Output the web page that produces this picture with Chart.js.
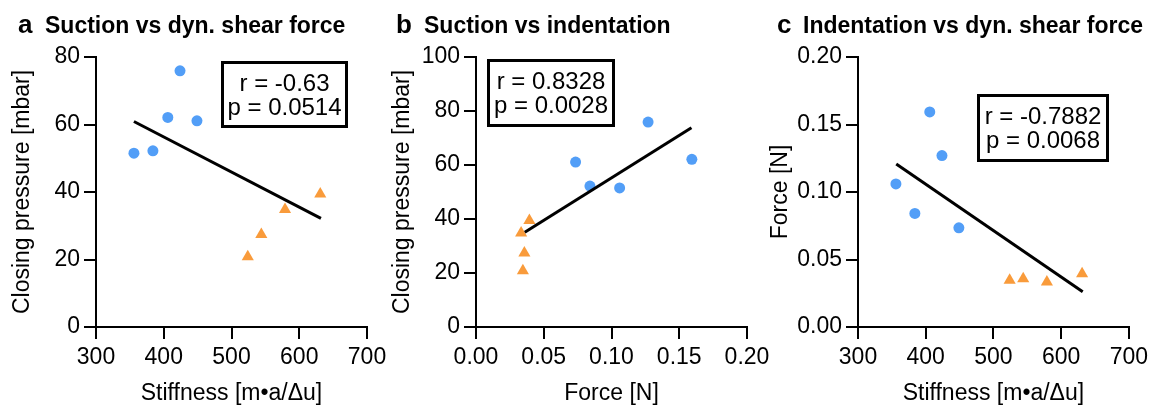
<!DOCTYPE html>
<html>
<head>
<meta charset="utf-8">
<script src="https://cdn.jsdelivr.net/npm/chart.js@4.4.1/dist/chart.umd.min.js"></script>
<style>
  html, body { margin: 0; padding: 0; background: #fff; overflow: hidden; }
  body { width: 1153px; height: 406px; position: relative; font-family: "Liberation Sans", Arial, Helvetica, sans-serif; color: #000; }
  canvas { position: absolute; top: 0; }
  .letter { position: absolute; top: 11px; font-weight: bold; font-size: 26px; line-height: 1; }
  .ttl { position: absolute; top: 14px; font-weight: bold; font-size: 23px; line-height: 1; white-space: nowrap; }
  .stat { position: absolute; box-sizing: border-box; border: 3px solid #000; display: flex; flex-direction: column;
          justify-content: center; align-items: center; font-size: 24px; line-height: 24px; white-space: nowrap; }
</style>
</head>
<body>
<canvas id="chartA" width="400" height="406" style="left:0px"></canvas>
<canvas id="chartB" width="400" height="406" style="left:380px"></canvas>
<canvas id="chartC" width="391" height="406" style="left:762px"></canvas>

<div class="letter" style="left:18px">a</div><div class="ttl" style="left:45px">Suction vs dyn. shear force</div>
<div class="letter" style="left:396px">b</div><div class="ttl" style="left:424px">Suction vs indentation</div>
<div class="letter" style="left:777px">c</div><div class="ttl" style="left:803px">Indentation vs dyn. shear force</div>

<div class="stat" style="left:221px;top:61px;width:127px;height:67px"><span>r = -0.63</span><span>p = 0.0514</span></div>
<div class="stat" style="left:487px;top:59px;width:128px;height:68px"><span>r = 0.8328</span><span>p = 0.0028</span></div>
<div class="stat" style="left:977px;top:94px;width:132px;height:68px"><span>r = -0.7882</span><span>p = 0.0068</span></div>

<script>
// valeurs
const stiffnessBlue = [356, 384, 406, 424, 449];
const pressureBlue  = [51.5, 52.2, 62.1, 75.9, 61.1];
const forceBlue     = [0.106, 0.0841, 0.1593, 0.127, 0.0735];

const stiffnessOrange = [524, 544, 579, 631];
const pressureOrange  = [20.8, 27.4, 34.8, 39.4];
const forceOrange     = [0.0346, 0.0357, 0.0333, 0.0394];

// droites de régression (extrémités lues)
const fitAX = [356, 632],      fitAY = [60.9, 32.2];
const fitBX = [0.036, 0.159],  fitBY = [35.1, 73.8];
const fitCX = [356.5, 631.9],  fitCY = [0.1208, 0.0261];

// graduations
const stiffnessTicks = [300, 400, 500, 600, 700];
const pressureTicksA = [0, 20, 40, 60, 80];
const pressureTicksB = [0, 20, 40, 60, 80, 100];
const forceTicks     = [0, 0.05, 0.10, 0.15, 0.20];

const BLUE = '#529EF7';
const ORANGE = '#F99B3B';
const FONT = '"Liberation Sans", Arial, Helvetica, sans-serif';

function pts(xs, ys) {
    return xs.map((x, i) => ({ x: x, y: ys[i] }));
}

function makeAxis(label, ticks, digits, isX, size, titlePad) {
    return {
        type: 'linear',
        min: ticks[0],
        max: ticks[ticks.length - 1],
        afterBuildTicks: s => { s.ticks = ticks.map(v => ({ value: v })); },
        afterFit: s => { if (isX) s.height = size; else s.width = size; },
        ticks: {
            color: '#000',
            font: { family: FONT, size: 23 },
            padding: isX ? 5 : 4,
            maxRotation: 0,
            autoSkip: false,
            callback: v => Number(v).toFixed(digits)
        },
        grid: { drawOnChartArea: false, drawTicks: true, tickLength: 12, color: '#000', lineWidth: 2 },
        border: { display: true, color: '#000', width: 2 },
        title: {
            display: true,
            text: label,
            color: '#000',
            font: { family: FONT, size: 23, lineHeight: 1.1 },
            padding: titlePad
        }
    };
}

function makePanel(id, width, fit, blue, orange, xAxis, yAxis) {
    return new Chart(document.getElementById(id), {
        type: 'scatter',
        data: {
            datasets: [
                { data: pts(fit[0], fit[1]), showLine: true, borderColor: '#000', borderWidth: 3,
                  pointRadius: 0, order: 0, borderCapStyle: 'butt' },
                { data: pts(blue[0], blue[1]), pointStyle: 'circle', pointRadius: 5.5,
                  backgroundColor: BLUE, borderWidth: 0, order: 1 },
                { data: pts(orange[0], orange[1]), pointStyle: 'triangle', pointRadius: 7,
                  backgroundColor: ORANGE, borderWidth: 0, order: 1 }
            ]
        },
        options: {
            responsive: false,
            animation: false,
            events: [],
            layout: { padding: { left: 0, top: 57, right: width - 367, bottom: 0 } },
            plugins: { legend: { display: false }, tooltip: { enabled: false } },
            scales: { x: xAxis, y: yAxis }
        }
    });
}

makePanel('chartA', 400, [fitAX, fitAY],
    [stiffnessBlue, pressureBlue], [stiffnessOrange, pressureOrange],
    makeAxis('Stiffness [m•a/Δu]', stiffnessTicks, 0, true, 79, { top: 0, bottom: 0 }),
    makeAxis('Closing pressure [mbar]', pressureTicksA, 0, false, 96, { top: 10, bottom: 0 }));

makePanel('chartB', 400, [fitBX, fitBY],
    [forceBlue, pressureBlue], [forceOrange, pressureOrange],
    makeAxis('Force [N]', forceTicks, 2, true, 79, { top: 0, bottom: 0 }),
    makeAxis('Closing pressure [mbar]', pressureTicksB, 0, false, 96, { top: 10, bottom: 0 }));

makePanel('chartC', 391, [fitCX, fitCY],
    [stiffnessBlue, forceBlue], [stiffnessOrange, forceOrange],
    makeAxis('Stiffness [m•a/Δu]', stiffnessTicks, 0, true, 79, { top: 0, bottom: 0 }),
    makeAxis('Force [N]', forceTicks, 2, false, 96, { top: 6, bottom: 0 }));
</script>
</body>
</html>
